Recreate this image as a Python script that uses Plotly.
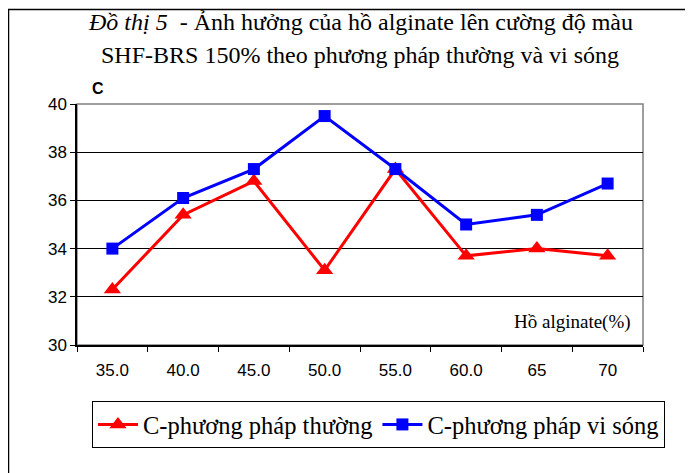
import plotly.graph_objects as go

categories = ["35.0", "40.0", "45.0", "50.0", "55.0", "60.0", "65", "70"]
c_thuong = [32.3, 35.4, 36.8, 33.1, 37.3, 33.7, 34.0, 33.7]
c_visong = [34.0, 36.1, 37.3, 39.5, 37.3, 35.0, 35.4, 36.7]
y_ticks = [30, 32, 34, 36, 38, 40]

serif = "Liberation Serif, Times New Roman, serif"
sans = "Liberation Sans, Arial, sans-serif"

fig = go.Figure()
fig.add_trace(go.Scatter(
    x=categories, y=c_thuong, name="C-phương pháp thường",
    mode="lines+markers",
    line=dict(color="#ff0000", width=3),
    marker=dict(symbol="triangle-up", size=15, color="#ff0000"),
))
fig.add_trace(go.Scatter(
    x=categories, y=c_visong, name="C-phương pháp vi sóng",
    mode="lines+markers",
    line=dict(color="#0000ff", width=3),
    marker=dict(symbol="square", size=12, color="#0000ff"),
))

W, H = 693, 473
OFF = 8  # page body margin offset
# target page positions of plot area: left 77, right 643, top 104, bottom 345
L = 77 - OFF
T = 104 - OFF
R = W - (643 - OFF)
B = H - (345 - OFF)
pw, ph = W - L - R, H - T - B

def px(x):
    return (x - OFF - L) / pw

def py(y):
    return (H - B - (y - OFF)) / ph

# plot area border (gray)
fig.add_shape(type="rect", xref="paper", yref="paper", x0=0, y0=0, x1=1, y1=1,
              line=dict(color="#808080", width=1.5), layer="below")
# outer chart border
fig.add_shape(type="rect", xref="paper", yref="paper",
              x0=px(8.5), y0=py(500), x1=px(720), y1=py(9.5),
              line=dict(color="black", width=1.5))

fig.add_annotation(xref="paper", yref="paper", x=px(360), y=py(22),
                   text="<i>Đồ thị 5</i>  - Ảnh hưởng của hồ alginate lên cường độ màu",
                   showarrow=False, font=dict(family=serif, size=24, color="black"),
                   xanchor="center", yanchor="middle")
fig.add_annotation(xref="paper", yref="paper", x=px(360), y=py(55),
                   text="SHF-BRS 150% theo phương pháp thường và vi sóng",
                   showarrow=False, font=dict(family=serif, size=24, color="black"),
                   xanchor="center", yanchor="middle")
fig.add_annotation(xref="paper", yref="paper", x=px(98), y=py(88),
                   text="<b>C</b>", showarrow=False,
                   font=dict(family=sans, size=16, color="black"),
                   xanchor="center", yanchor="middle")
fig.add_annotation(xref="paper", yref="paper", x=px(633), y=py(322),
                   text="Hồ alginate(%)", showarrow=False,
                   font=dict(family=serif, size=19, color="black"),
                   xanchor="right", yanchor="middle")

fig.update_layout(
    width=W, height=H,
    margin=dict(l=L, r=R, t=T, b=B, autoexpand=False),
    paper_bgcolor="white", plot_bgcolor="white",
    showlegend=True,
    legend=dict(orientation="h", x=px(665), y=py(401), xanchor="right", yanchor="top",
                bordercolor="black", borderwidth=1,
                font=dict(family=serif, size=24.5, color="black"),
                itemwidth=40, tracegroupgap=0),
)
fig.update_xaxes(type="category", tickson="boundaries", ticks="outside", ticklen=5,
                 tickcolor="black", showline=True, linecolor="black", linewidth=1.5,
                 showgrid=False, tickfont=dict(family=sans, size=17, color="black"),
                 ticklabelstandoff=9,
                 range=[-0.5, 7.5], automargin=False)
fig.update_yaxes(range=[30, 40], tickvals=y_ticks, ticks="outside", ticklen=5,
                 tickcolor="black", showline=True, linecolor="black", linewidth=1.5,
                 showgrid=True, gridcolor="black", gridwidth=1, zeroline=False,
                 tickfont=dict(family=sans, size=17, color="black"), automargin=False)

fig.write_html("out.html")
